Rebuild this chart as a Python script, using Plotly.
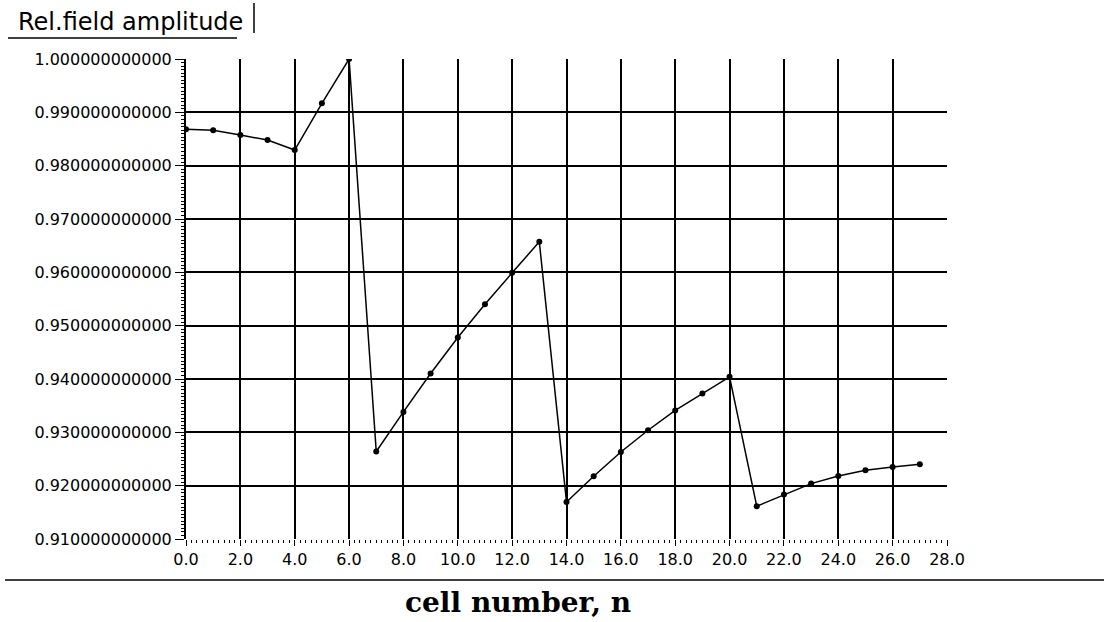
import plotly.graph_objects as go

# Data
cell_number = list(range(28))
rel_field_amplitude = [
    0.98681, 0.98662, 0.98574, 0.98480, 0.98293, 0.99169, 1.00000,
    0.92640, 0.93383, 0.94103, 0.94779, 0.95403, 0.95991, 0.96572,
    0.91695, 0.92176, 0.92632, 0.93039, 0.93410, 0.93728, 0.94040,
    0.91614, 0.91833, 0.92039, 0.92182, 0.92289, 0.92351, 0.92402,
]
x_tick_vals = [0, 2, 4, 6, 8, 10, 12, 14, 16, 18, 20, 22, 24, 26, 28]
y_tick_vals = [0.91, 0.92, 0.93, 0.94, 0.95, 0.96, 0.97, 0.98, 0.99, 1.00]
y_title = "Rel.field amplitude"
x_title = "cell number, n"

W, H = 1104, 622
ML, MR, MT, MB = 186, 157, 59, 83
PW = W - ML - MR
PH = H - MT - MB


def px_x(p):
    return (p - ML) / PW


def px_y(p):
    return (H - MB - p) / PH


fig = go.Figure()
fig.add_trace(go.Scatter(
    x=cell_number, y=rel_field_amplitude, mode="lines+markers",
    line=dict(color="black", width=1.5),
    marker=dict(color="black", size=6),
    showlegend=False,
))

sans = "DejaVu Sans, Verdana, sans-serif"

fig.update_layout(
    width=W, height=H,
    margin=dict(l=ML, r=MR, t=MT, b=MB),
    paper_bgcolor="white", plot_bgcolor="white",
    font=dict(family=sans, color="black"),
    xaxis=dict(
        range=[0, 28], tickvals=x_tick_vals,
        ticktext=[f"{v:.1f}" for v in x_tick_vals],
        showgrid=True, gridcolor="black", gridwidth=2,
        showline=False, zeroline=False,
        ticks="outside", ticklen=6, tickcolor="black", tickwidth=1,
        tickfont=dict(size=16, family=sans, color="black"),
        minor=dict(dtick=0.2, ticks="outside", ticklen=3, tickcolor="black", showgrid=False),
        fixedrange=True,
    ),
    yaxis=dict(
        range=[0.91, 1.0], tickvals=y_tick_vals,
        ticktext=[f"{v:.12f}" for v in y_tick_vals],
        showgrid=True, gridcolor="black", gridwidth=2,
        showline=True, linecolor="black", linewidth=2,
        zeroline=False,
        ticks="outside", ticklen=9, tickcolor="black", tickwidth=1,
        tickfont=dict(size=16, family=sans, color="black"),
        minor=dict(tick0=0.91, dtick=0.01 / 15, ticks="outside", ticklen=3,
                   tickcolor="black", showgrid=False),
        fixedrange=True,
    ),
    annotations=[
        dict(text=y_title, xref="paper", yref="paper",
             x=px_x(16), y=px_y(22), xanchor="left", yanchor="middle",
             showarrow=False, font=dict(size=24, family=sans, color="black")),
        dict(text=f"<b>{x_title}</b>", xref="paper", yref="paper",
             x=px_x(518), y=px_y(602), xanchor="center", yanchor="middle",
             showarrow=False,
             font=dict(size=28, family="DejaVu Serif, Liberation Serif, serif", color="black")),
    ],
    shapes=[
        dict(type="line", xref="paper", yref="paper",
             x0=px_x(8), x1=px_x(237), y0=px_y(38), y1=px_y(38),
             line=dict(color="black", width=1.5)),
        dict(type="line", xref="paper", yref="paper",
             x0=px_x(254), x1=px_x(254), y0=px_y(3), y1=px_y(33),
             line=dict(color="black", width=1.5)),
        dict(type="line", xref="paper", yref="paper",
             x0=px_x(5), x1=px_x(1104), y0=px_y(580), y1=px_y(580),
             line=dict(color="black", width=1.5)),
    ],
)

fig.write_html("out.html", config={"displayModeBar": False},
               post_script="document.body.style.margin='0px';document.body.style.overflow='hidden';")
